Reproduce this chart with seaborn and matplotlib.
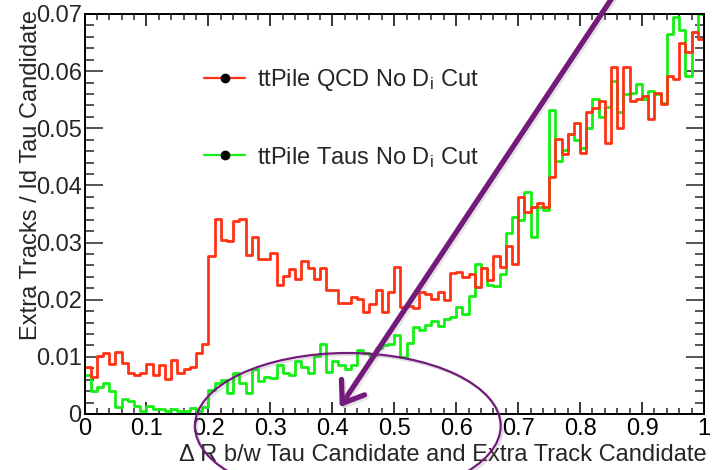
import numpy as np
import pandas as pd
import matplotlib
matplotlib.use("Agg")
import matplotlib.pyplot as plt
import seaborn as sns
from matplotlib.lines import Line2D
from matplotlib.patches import Ellipse, FancyArrowPatch
import matplotlib.patheffects as pe
from matplotlib.ticker import MultipleLocator, FuncFormatter

# 100 bins of Delta R in [0, 1]
n_bins = 100
dr_min, dr_max = 0.0, 1.0

# Extra tracks per identified tau candidate, ttPile QCD sample (no D_i cut)
qcd_no_di = [
    0.0082, 0.0065, 0.0102, 0.0106, 0.0088, 0.0109, 0.0090, 0.0071, 0.0068, 0.0072,
    0.0087, 0.0069, 0.0086, 0.0061, 0.0095, 0.0072, 0.0079, 0.0082, 0.0106, 0.0122,
    0.0277, 0.0341, 0.0304, 0.0302, 0.0338, 0.0341, 0.0278, 0.0309, 0.0271, 0.0271,
    0.0281, 0.0226, 0.0242, 0.0254, 0.0236, 0.0268, 0.0255, 0.0236, 0.0256, 0.0217,
    0.0217, 0.0195, 0.0194, 0.0205, 0.0202, 0.0178, 0.0193, 0.0217, 0.0178, 0.0213,
    0.0258, 0.0187, 0.0189, 0.0186, 0.0214, 0.0210, 0.0201, 0.0214, 0.0200, 0.0247,
    0.0249, 0.0239, 0.0245, 0.0223, 0.0255, 0.0234, 0.0277, 0.0258, 0.0294, 0.0262,
    0.0380, 0.0353, 0.0362, 0.0370, 0.0363, 0.0415, 0.0481, 0.0455, 0.0490, 0.0510,
    0.0457, 0.0529, 0.0536, 0.0548, 0.0474, 0.0607, 0.0500, 0.0607, 0.0547, 0.0551,
    0.0556, 0.0516, 0.0561, 0.0543, 0.0592, 0.0586, 0.0650, 0.0634, 0.0669, 0.0656,
]

# Same quantity for the ttPile Taus sample (no D_i cut)
taus_no_di = [
    0.0069, 0.0041, 0.0048, 0.0055, 0.0040, 0.0012, 0.0026, 0.0023, 0.0014, 0.0005,
    0.0014, 0.0008, 0.0009, 0.0006, 0.0009, 0.0006, 0.0005, 0.0010, 0.0006, 0.0012,
    0.0042, 0.0054, 0.0059, 0.0037, 0.0071, 0.0054, 0.0036, 0.0079, 0.0058, 0.0064,
    0.0063, 0.0085, 0.0072, 0.0069, 0.0092, 0.0083, 0.0072, 0.0102, 0.0122, 0.0074,
    0.0092, 0.0086, 0.0079, 0.0086, 0.0112, 0.0106, 0.0104, 0.0115, 0.0120, 0.0122,
    0.0138, 0.0100, 0.0124, 0.0152, 0.0147, 0.0156, 0.0162, 0.0154, 0.0167, 0.0170,
    0.0188, 0.0175, 0.0207, 0.0262, 0.0255, 0.0226, 0.0224, 0.0245, 0.0317, 0.0345,
    0.0340, 0.0389, 0.0309, 0.0363, 0.0357, 0.0532, 0.0443, 0.0462, 0.0490, 0.0479,
    0.0465, 0.0501, 0.0552, 0.0519, 0.0538, 0.0582, 0.0529, 0.0560, 0.0562, 0.0578,
    0.0551, 0.0566, 0.0560, 0.0545, 0.0665, 0.0695, 0.0672, 0.0592, 0.0669, 0.0700,
]

series_labels = ["ttPile QCD No D$_{i}$ Cut", "ttPile Taus No D$_{i}$ Cut"]
series_colors = ["#ff3214", "#14f014"]

x_label = "\u0394 R b/w Tau Candidate and Extra Track Candidate"
y_label = "Extra Tracks / Id Tau Candidate"

purple = "#731a7a"
text_size = 17

sns.set_style("ticks")
plt.rcParams["font.family"] = ["Liberation Sans", "DejaVu Sans"]
plt.rcParams["mathtext.default"] = "regular"

W, H = 712, 470
fig = plt.figure(figsize=(W / 100, H / 100), dpi=100)
ax_l, ax_r, ax_t, ax_b = 84.5, 704.0, 14.0, 414.0
ax = fig.add_axes([ax_l / W, 1 - ax_b / H, (ax_r - ax_l) / W, (ax_b - ax_t) / H])

edges = np.linspace(dr_min, dr_max, n_bins + 1)
centers = 0.5 * (edges[:-1] + edges[1:])
df = pd.DataFrame({
    "dR": np.concatenate([centers, centers]),
    "frac": np.concatenate([qcd_no_di, taus_no_di]),
    "sample": [series_labels[0]] * n_bins + [series_labels[1]] * n_bins,
})

sns.histplot(
    data=df, x="dR", weights="frac", hue="sample",
    bins=n_bins, binrange=(dr_min, dr_max),
    element="step", fill=False, linewidth=2.0, legend=False,
    palette=dict(zip(series_labels, series_colors)), ax=ax,
)

ax.set_xlim(0, 1)
ax.set_ylim(0, 0.07)

# ROOT-like frame: ticks inside on all four sides
ax.xaxis.set_major_locator(MultipleLocator(0.1))
ax.xaxis.set_minor_locator(MultipleLocator(0.02))
ax.yaxis.set_major_locator(MultipleLocator(0.01))
ax.yaxis.set_minor_locator(MultipleLocator(0.002))
ax.tick_params(axis="x", which="major", direction="in", length=8.5, width=1.1,
               top=True, bottom=True, labelsize=text_size, pad=3, colors="black")
ax.tick_params(axis="x", which="minor", direction="in", length=4.3, width=1.1,
               top=True, bottom=True)
ax.tick_params(axis="y", which="major", direction="in", length=13, width=1.1,
               left=True, right=True, labelsize=text_size, pad=2)
ax.tick_params(axis="y", which="minor", direction="in", length=6.5, width=1.1,
               left=True, right=True)
for s in ax.spines.values():
    s.set_linewidth(1.4)
    s.set_color("black")

def fmt_x(v, _):
    if abs(v) < 1e-9:
        return "0"
    if abs(v - 1) < 1e-9:
        return "1"
    return f"{v:.1f}"

def fmt_y(v, _):
    if abs(v) < 1e-9:
        return "0"
    return f"{v:.2f}"

ax.xaxis.set_major_formatter(FuncFormatter(fmt_x))
ax.yaxis.set_major_formatter(FuncFormatter(fmt_y))

ax.set_xlabel(x_label, loc="right", fontsize=text_size)
ax.xaxis.set_label_coords(1.004, -0.075)
ax.set_ylabel(y_label, loc="top", fontsize=text_size)
ax.yaxis.set_label_coords(-0.068, 1.01)

# Legend with ROOT-style line+marker entries
handles = [
    Line2D([], [], color=c, lw=1.6, marker="o", ms=6, mfc="black", mec="black")
    for c in series_colors
]
ax.legend(handles, series_labels, loc="upper left", bbox_to_anchor=(0.193, 0.868),
          frameon=False, fontsize=text_size, handlelength=1.75, handletextpad=0.5,
          labelspacing=2.2, borderpad=0, borderaxespad=0)

# Highlight: open ellipse around the low-Delta R taus region and a pointer arrow
ell = Ellipse((0.425, -0.0021), width=0.4935, height=0.02555, fill=False,
              edgecolor=purple, lw=1.6, clip_on=False, zorder=6)
ell.set_path_effects([pe.SimpleLineShadow(offset=(1.5, -1.5), shadow_color="gray", alpha=0.25),
                      pe.Normal()])
ax.add_patch(ell)

arrow = FancyArrowPatch((0.905, 0.0815), (0.412, 0.0012),
                        arrowstyle="->,head_length=0.7,head_width=0.5",
                        mutation_scale=20, color=purple, lw=3.8,
                        clip_on=False, zorder=7, shrinkA=0, shrinkB=0)
arrow.set_path_effects([pe.SimpleLineShadow(offset=(1.5, -1.5), shadow_color="gray", alpha=0.2),
                        pe.Normal()])
ax.add_patch(arrow)

fig.savefig("out.png", dpi=100)
